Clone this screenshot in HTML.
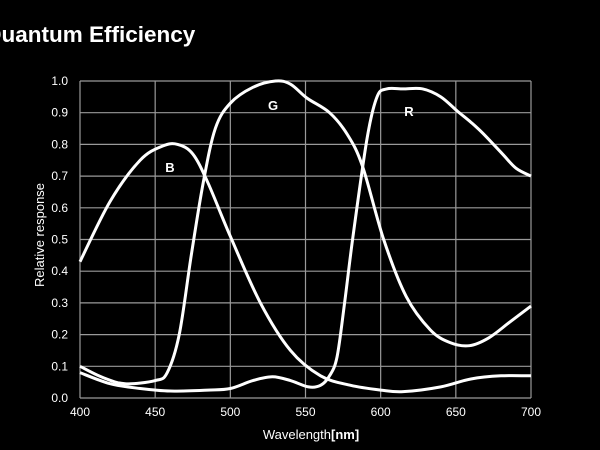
<!DOCTYPE html>
<html><head><meta charset="utf-8"><style>
html,body{margin:0;padding:0;background:#000;width:600px;height:450px;overflow:hidden}
svg text{font-family:"Liberation Sans",sans-serif;fill:#fff}
</style></head><body>
<svg id="s" width="600" height="450" xmlns="http://www.w3.org/2000/svg">
<rect width="600" height="450" fill="#000"/>
<text x="-16" y="42" font-size="22.5" font-weight="bold">Quantum Efficiency</text>
<g id="grid" stroke="#9a9a9a" stroke-width="1.2" fill="none"></g>
<g id="labels" font-size="12" fill="#e6e6e6"></g>
<text x="311" y="439" font-size="13" text-anchor="middle">Wavelength<tspan font-weight="bold">[nm]</tspan></text>
<text transform="translate(44,235) rotate(-90)" font-size="13" text-anchor="middle">Relative response</text>
<g id="curves" stroke="#fff" stroke-width="3" fill="none"></g>
<text x="170" y="172" font-size="13" font-weight="bold" text-anchor="middle">B</text>
<text x="273" y="110" font-size="13" font-weight="bold" text-anchor="middle">G</text>
<text x="409" y="116" font-size="13" font-weight="bold" text-anchor="middle">R</text>
</svg>
<script>
var NS="http://www.w3.org/2000/svg";
function X(w){return 80+(w-400)*451/300;}
function Y(v){return 398-v*317;}
var g=document.getElementById('grid'),L=document.getElementById('labels');
function el(p,t,a){var e=document.createElementNS(NS,t);for(var k in a)e.setAttribute(k,a[k]);p.appendChild(e);return e;}
for(var w=400;w<=700;w+=50){el(g,'line',{x1:X(w),x2:X(w),y1:Y(1),y2:Y(0)});var t=el(L,'text',{x:X(w),y:416,'text-anchor':'middle'});t.textContent=w;}
for(var i=0;i<=10;i++){var v=i/10;el(g,'line',{x1:X(400),x2:X(700),y1:Y(v),y2:Y(v)});var t=el(L,'text',{x:68,y:Y(v)+4,'text-anchor':'end'});t.textContent=v.toFixed(1);}
var B=[[400,0.43],[420,0.62],[440,0.75],[455,0.795],[465,0.80],[475,0.77],[485,0.68],[500,0.51],[520,0.30],[540,0.15],[560,0.07],[580,0.04],[600,0.025],[615,0.02],[640,0.035],[660,0.06],[680,0.07],[700,0.07]];
var G=[[400,0.1],[415,0.065],[430,0.045],[450,0.055],[458,0.08],[466,0.2],[474,0.45],[482,0.68],[490,0.85],[500,0.93],[515,0.98],[530,1.0],[540,0.99],[551,0.946],[566,0.90],[578,0.83],[588,0.73],[602,0.50],[617,0.32],[633,0.215],[646,0.175],[659,0.165],[672,0.19],[686,0.24],[700,0.29]];
var R=[[400,0.08],[420,0.045],[440,0.03],[460,0.022],[485,0.025],[500,0.03],[515,0.055],[528,0.067],[540,0.055],[552,0.035],[560,0.04],[566,0.07],[571,0.13],[576,0.3],[581.6,0.51],[591,0.82],[597.6,0.95],[604,0.975],[615,0.975],[628,0.975],[640,0.95],[651,0.905],[660,0.87],[668,0.835],[681,0.77],[690,0.725],[700,0.70]];
var C=document.getElementById('curves');
function path(d){var p=d.map(function(q){return[X(q[0]),Y(q[1])]});var s='M'+p[0][0]+','+p[0][1];
for(var i=0;i<p.length-1;i++){var p0=p[i-1]||p[i],p1=p[i],p2=p[i+1],p3=p[i+2]||p2;
s+=' C'+(p1[0]+(p2[0]-p0[0])/6)+','+(p1[1]+(p2[1]-p0[1])/6)+' '+(p2[0]-(p3[0]-p1[0])/6)+','+(p2[1]-(p3[1]-p1[1])/6)+' '+p2[0]+','+p2[1];}
el(C,'path',{d:s});}
path(B);path(G);path(R);
</script>
</body></html>
